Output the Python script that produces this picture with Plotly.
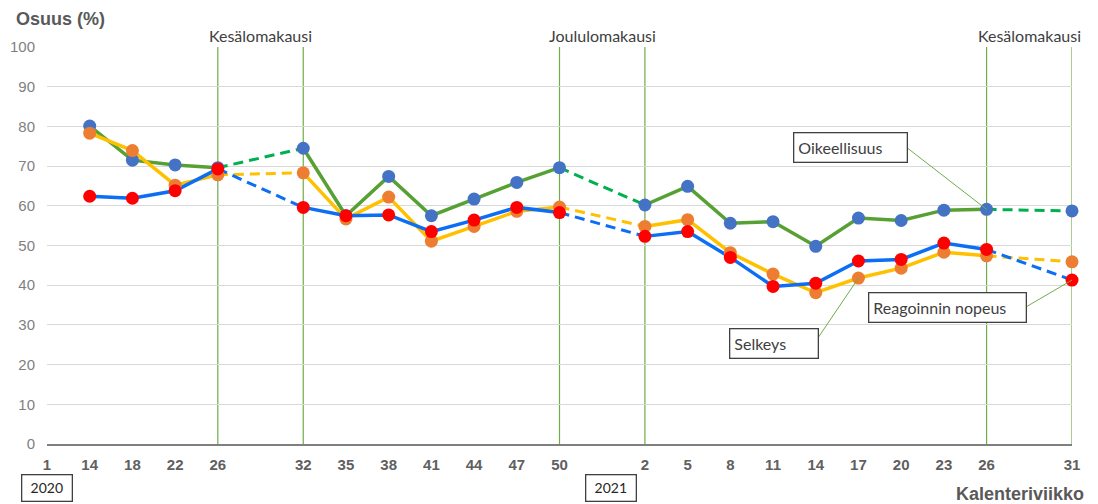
import plotly.graph_objects as go

# ---- data -------------------------------------------------------------
# Calendar-week slots along the x axis (None = empty slot between periods)
weeks = ["1", "14", "18", "22", "26", None, "32", "35", "38", "41", "44", "47", "50", None,
         "2", "5", "8", "11", "14", "17", "20", "23", "26", None, "31"]

oikeellisuus = [None, 80.1, 71.5, 70.3, 69.6, None, 74.5, 57.5, 67.4, 57.5, 61.7, 65.9, 69.6, None,
                60.2, 64.9, 55.6, 56.0, 49.8, 56.9, 56.3, 58.9, 59.1, None, 58.7]
selkeys = [None, 78.3, 73.9, 65.2, 67.8, None, 68.3, 56.7, 62.2, 51.1, 54.8, 58.6, 59.7, None,
           54.8, 56.5, 48.2, 42.8, 38.1, 41.8, 44.3, 48.3, 47.4, None, 45.9]
reagointi = [None, 62.4, 61.9, 63.8, 69.3, None, 59.6, 57.5, 57.7, 53.5, 56.4, 59.6, 58.3, None,
             52.3, 53.5, 47.0, 39.7, 40.5, 46.1, 46.5, 50.6, 49.0, None, 41.3]

# Holiday periods: (label, start week slot, end week slot)
holidays = [("Kesälomakausi", 4, 6), ("Joululomakausi", 12, 14), ("Kesälomakausi", 22, 24)]
years = [("2020", 0), ("2021", 13.2)]

y_ticks = list(range(0, 101, 10))

# ---- helpers ----------------------------------------------------------
xs = list(range(len(weeks)))
gaps = [i for i, w in enumerate(weeks) if w is None]


def dashed_parts(vals):
    dx, dy = [], []
    for g in gaps:
        dx += [g - 1, g + 1, None]
        dy += [vals[g - 1], vals[g + 1], None]
    return dx, dy


series = [
    # name, values, line colour, dashed colour, marker colour
    ("Oikeellisuus", oikeellisuus, "#57a034", "#00b050", "#4472c4"),
    ("Selkeys", selkeys, "#ffc000", "#ffc000", "#ed7d31"),
    ("Reagoinnin nopeus", reagointi, "#0b6ef5", "#0b6ef5", "#ff0000"),
]

fig = go.Figure()

# holiday vertical lines
for label, a, b in holidays:
    for xv in (a, b):
        fig.add_shape(type="line", x0=xv, x1=xv, y0=0, y1=100, xref="x", yref="y",
                      line=dict(color="#70ad47", width=1.2), layer="below")
    fig.add_annotation(x=(a + b) / 2, y=1.0, xref="x", yref="paper", yanchor="bottom",
                       text=label, showarrow=False,
                       font=dict(family="Lato", size=16, color="#404040"))

# lines
for name, vals, lc, dc, mc in series:
    fig.add_trace(go.Scatter(x=xs, y=vals, mode="lines", line=dict(color=lc, width=3.5),
                             connectgaps=False, showlegend=False, hoverinfo="skip"))
    dx, dy = dashed_parts(vals)
    fig.add_trace(go.Scatter(x=dx, y=dy, mode="lines",
                             line=dict(color=dc, width=3, dash="10px,6px"),
                             connectgaps=False, showlegend=False, hoverinfo="skip"))

# markers
for name, vals, lc, dc, mc in series:
    fig.add_trace(go.Scatter(x=xs, y=vals, mode="markers", name=name,
                             marker=dict(color=mc, size=13), cliponaxis=False,
                             showlegend=False))

# callout labels
callouts = [
    ("Oikeellisuus", 17.47, 74.7, 22, oikeellisuus[22], 20.14, 74.6, 104),
    ("Selkeys", 15.97, 25.2, 19, selkeys[19], 18.05, 26.7, 79),
    ("Reagoinnin nopeus", 19.22, 34.4, 24, reagointi[24], 22.92, 34.5, 148),
]
for text, bx, by, px, py, lx, ly, w in callouts:
    fig.add_annotation(x=bx, y=by, xref="x", yref="y", xanchor="left", yanchor="middle",
                       text=text, showarrow=False, align="left", width=w, height=20,
                       bordercolor="#404040", borderwidth=1.3, borderpad=4, bgcolor="white",
                       font=dict(family="Lato", size=16, color="#404040"))
    fig.add_shape(type="line", x0=lx, y0=ly, x1=px, y1=py, xref="x", yref="y",
                  line=dict(color="#70ad47", width=1))

# year boxes
for text, xv in years:
    fig.add_annotation(x=xv, y=-0.111, xref="x", yref="paper", xanchor="center",
                       yanchor="middle", text=text, showarrow=False, width=45, height=21,
                       bordercolor="#404040", borderwidth=1.3, borderpad=2, bgcolor="white",
                       font=dict(family="Lato", size=14, color="#262626"))

# titles
fig.add_annotation(x=-0.032, y=1.07, xref="paper", yref="paper", xanchor="left",
                   yanchor="middle", text="<b>Osuus (%)</b>", showarrow=False,
                   font=dict(family="Liberation Sans", size=18, color="#595959"))
fig.add_annotation(x=1.0137, y=-0.126, xref="paper", yref="paper", xanchor="right",
                   yanchor="middle", text="<b>Kalenteriviikko</b>", showarrow=False,
                   font=dict(family="Liberation Sans", size=18, color="#595959"))

tick_x = [i for i, w in enumerate(weeks) if w is not None]
tick_t = [w for w in weeks if w is not None]

# the page adds an 8px body margin, so margins are reduced by 8px on the top/left
fig.update_layout(
    width=1098, height=504,
    margin=dict(l=39, r=34, t=39, b=68),
    paper_bgcolor="white", plot_bgcolor="white",
    font=dict(family="Liberation Sans"),
    xaxis=dict(range=[0, 24], tickvals=tick_x, ticktext=tick_t, showgrid=False,
               zeroline=False, showline=True, linecolor="#7f7f7f", linewidth=2,
               ticks="", ticklabelstandoff=6, automargin=False,
               tickfont=dict(family="Liberation Sans", size=15, color="#606060", weight="bold")),
    yaxis=dict(range=[0, 100], tickvals=y_ticks, showgrid=True, gridcolor="#d9d9d9",
               gridwidth=1, zeroline=False, showline=False, ticks="", ticklabelstandoff=11,
               automargin=False,
               tickfont=dict(family="Liberation Sans", size=15, color="#7f7f7f")),
    hovermode=False,
)

fig.write_html("out.html")
